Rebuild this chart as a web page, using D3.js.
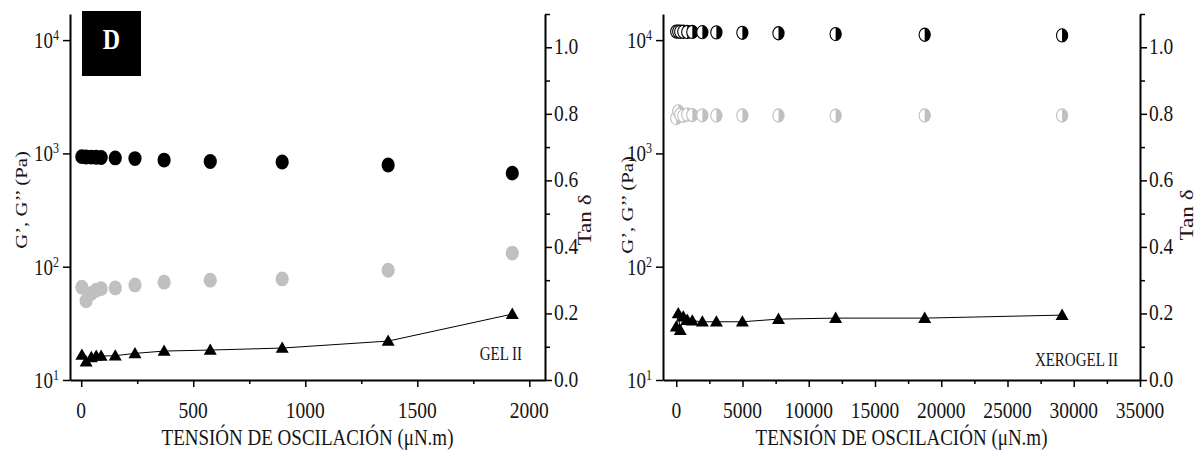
<!DOCTYPE html>
<html>
<head>
<meta charset="utf-8">
<script src="https://cdn.jsdelivr.net/npm/d3@7"></script>
<style>
html,body{margin:0;padding:0;background:#fff;}
svg{display:block;}
text{font-family:"Liberation Serif","Times New Roman",serif;fill:#151515;}
</style>
</head>
<body>
<svg id="chart" width="1204" height="456"></svg>
<script>
// ---------- DATA ----------
// Panel D-left: GEL II
const gelStress = [3, 22, 45, 67, 89, 152, 240, 370, 576, 897, 1370, 1924];
const gelGp     = [935, 930, 928, 925, 920, 912, 900, 873, 848, 840, 790, 670];
const gelGpp    = [66, 50, 58, 62, 64, 65, 69, 73, 76, 78, 93, 132];
const gelTan    = [0.075, 0.055, 0.068, 0.072, 0.072, 0.073, 0.080, 0.087, 0.090, 0.096, 0.117, 0.198];
// Panel D-right: XEROGEL II
const xeroStress = [0, 150, 300, 530, 830, 1210, 1970, 3030, 4990, 7715, 12030, 18750, 29120];
const xeroGp     = [11900, 11900, 11850, 11850, 11800, 11800, 11750, 11700, 11600, 11500, 11300, 11150, 11000];
const xeroGpp    = [2050, 2350, 2200, 2150, 2200, 2180, 2170, 2160, 2160, 2160, 2150, 2160, 2160];
const xeroTan    = [0.16, 0.20, 0.15, 0.19, 0.18, 0.178, 0.175, 0.175, 0.175, 0.183, 0.186, 0.186, 0.195];
// Ticks / labels
const logTickExps   = [1, 2, 3, 4];
const tanTicks      = [0, 0.2, 0.4, 0.6, 0.8, 1.0];
const tanMinorTicks = [0.1, 0.3, 0.5, 0.7, 0.9, 1.1];
const gelXTicks      = [0, 500, 1000, 1500, 2000];
const gelXMinor      = [250, 750, 1250, 1750];
const xeroXTicks     = [0, 5000, 10000, 15000, 20000, 25000, 30000, 35000];
const xeroXMinor     = [2500, 7500, 12500, 17500, 22500, 27500, 32500];
const xTitle = "TENSIÓN DE OSCILACIÓN (μN.m)";
const yTitle = "G’, G’’ (Pa)";
const tanTitle = "Tan δ";
const panelLetter = "D";
const gelLabel = "GEL II";
const xeroLabel = "XEROGEL II";

// ---------- DRAW ----------
const svg = d3.select("#chart");
const S = 1.22; // vertical stretch of the typeset text
const GRAY = "#c0c0c0";
const yTop = 14, yBot = 380;

function stretchedText(g, x, y, str, size, anchor, opts = {}) {
  const t = g.append("text")
    .attr("transform", opts.rotate ? `translate(${x},${y}) rotate(-90) scale(${S},1)` : `translate(${x},${y}) scale(1,${S})`)
    .attr("text-anchor", anchor)
    .style("font-size", size + "px");
  if (opts.bold) t.style("font-weight", "bold");
  if (opts.fill) t.style("fill", opts.fill);
  t.text(str);
  return t;
}

function panel(cfg) {
  const g = svg.append("g");
  const x = d3.scaleLinear().domain(cfg.xDomain).range([cfg.x0, cfg.x1]);
  const yLog = d3.scaleLog().domain([10, 17000]).range([yBot, yTop]);
  const yTan = d3.scaleLinear().domain([0, 1.1]).range([yBot, yTop]);

  // axes
  const axStyle = sel => { sel.selectAll("path,line").attr("stroke", "#000"); sel.select(".domain").attr("stroke-width", 2); sel.selectAll(".tick line").attr("stroke-width", 1.5); };
  g.append("g").attr("transform", `translate(0,${yBot})`)
    .call(d3.axisBottom(x).tickValues(cfg.xMinor).tickSize(4).tickFormat("").tickSizeOuter(0))
    .call(s => s.select(".domain").remove()).call(axStyle);
  g.append("g").attr("transform", `translate(0,${yBot})`)
    .call(d3.axisBottom(x).tickValues(cfg.xTicks).tickSize(7).tickFormat("").tickSizeOuter(0)).call(axStyle);
  g.append("g").attr("transform", `translate(${cfg.x0},0)`)
    .call(d3.axisLeft(yLog).tickValues(logTickExps.map(e => Math.pow(10, e))).tickSize(7).tickFormat("").tickSizeOuter(0)).call(axStyle);
  g.append("g").attr("transform", `translate(${cfg.x1},0)`)
    .call(d3.axisRight(yTan).tickValues(tanMinorTicks).tickSize(5).tickFormat("").tickSizeOuter(0))
    .call(s => s.select(".domain").remove()).call(axStyle);
  g.append("g").attr("transform", `translate(${cfg.x1},0)`)
    .call(d3.axisRight(yTan).tickValues(tanTicks).tickSize(7).tickFormat("").tickSizeOuter(0)).call(axStyle);

  // tick labels
  cfg.xTicks.forEach(v => stretchedText(g, x(v), 418, String(v), 19.5, "middle"));
  logTickExps.forEach(e => {
    const t = g.append("text")
      .attr("transform", `translate(${cfg.x0 - 11},${yLog(Math.pow(10, e)) + 8}) scale(1,${S})`)
      .attr("text-anchor", "end").style("font-size", "19px");
    t.append("tspan").text("10");
    t.append("tspan").attr("dy", "-0.55em").style("font-size", "12px").text(String(e));
  });
  tanTicks.forEach(v => stretchedText(g, cfg.x1 + 9, yTan(v) + 7, v.toFixed(1), 19.5, "start"));

  // titles
  stretchedText(g, (cfg.x0 + cfg.x1) / 2, 445, xTitle, 19, "middle");
  stretchedText(g, cfg.yLabelX, cfg.yLabelY, yTitle, 17, "middle", { rotate: true });
  stretchedText(g, cfg.tanLabelX, cfg.tanLabelY, tanTitle, 19, "middle", { rotate: true, fill: "#2a1515" });
  stretchedText(g, cfg.noteX, cfg.noteY, cfg.note, 15, "end");

  // tan delta line + triangles
  const pts = cfg.stress.map((s, i) => [s, cfg.tan[i]]);
  g.append("path").datum(pts)
    .attr("d", d3.line().x(d => x(d[0])).y(d => yTan(d[1])))
    .attr("fill", "none").attr("stroke", "#000").attr("stroke-width", 1);
  g.selectAll(".tri").data(pts).enter().append("path")
    .attr("transform", d => `translate(${x(d[0])},${yTan(d[1])})`)
    .attr("d", "M0,-6.5L6.5,4.8L-6.5,4.8Z").attr("fill", "#000");

  // moduli markers
  const drawSeries = (vals, color) => {
    const data = cfg.stress.map((s, i) => [s, vals[i]]);
    if (cfg.half) {
      const grp = g.selectAll(null).data(data).enter().append("g")
        .attr("transform", d => `translate(${x(d[0])},${yLog(d[1])})`);
      grp.append("ellipse").attr("rx", 5.6).attr("ry", 6.6).attr("fill", "#fff").attr("stroke", color).attr("stroke-width", 1.1);
      grp.append("path").attr("d", "M0,-6.6A5.6,6.6 0 0 1 0,6.6Z").attr("fill", color);
    } else {
      g.selectAll(null).data(data).enter().append("ellipse")
        .attr("cx", d => x(d[0])).attr("cy", d => yLog(d[1]))
        .attr("rx", 6.6).attr("ry", 7.4).attr("fill", color);
    }
  };
  drawSeries(cfg.gpp, GRAY);
  drawSeries(cfg.gp, "#000");
  return g;
}

panel({ x0: 70, x1: 545, xDomain: [-50, 2070], xTicks: gelXTicks, xMinor: gelXMinor,
  stress: gelStress, gp: gelGp, gpp: gelGpp, tan: gelTan, half: false,
  yLabelX: 27, yLabelY: 200, tanLabelX: 591, tanLabelY: 220,
  note: gelLabel, noteX: 522, noteY: 360 });
panel({ x0: 663, x1: 1140, xDomain: [-1000, 35000], xTicks: xeroXTicks, xMinor: xeroXMinor,
  stress: xeroStress, gp: xeroGp, gpp: xeroGpp, tan: xeroTan, half: true,
  yLabelX: 633, yLabelY: 205, tanLabelX: 1193, tanLabelY: 215,
  note: xeroLabel, noteX: 1118, noteY: 366 });

// panel letter box
svg.append("rect").attr("x", 82).attr("y", 11).attr("width", 59).attr("height", 65).attr("fill", "#000");
stretchedText(svg, 111.5, 49, panelLetter, 24, "middle", { bold: true, fill: "#fff" });
</script>
</body>
</html>
